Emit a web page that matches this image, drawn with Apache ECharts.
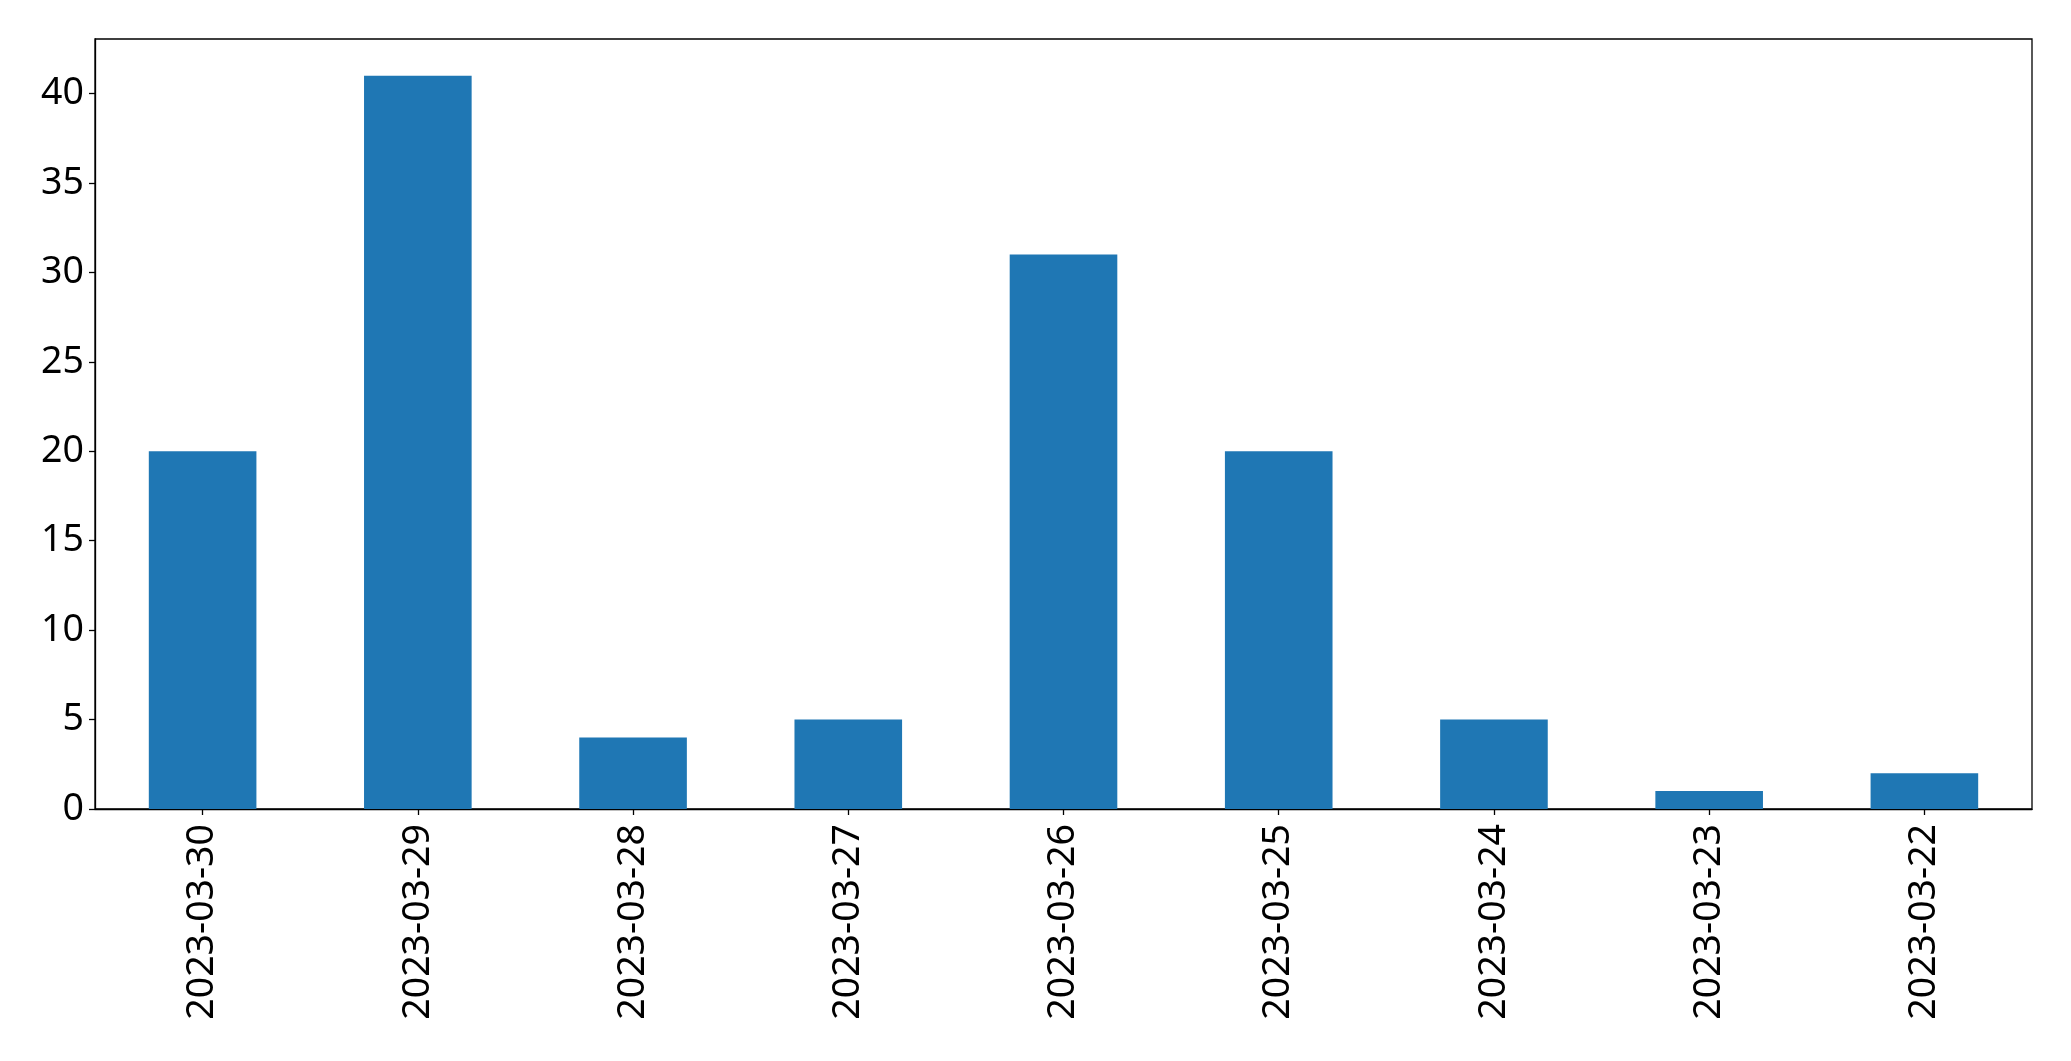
<!DOCTYPE html>
<html>
<head>
<meta charset="utf-8">
<script src="https://cdn.jsdelivr.net/npm/echarts@6/dist/echarts.min.js"></script>
<style>
html,body{margin:0;padding:0;background:#fff;}
#chart{width:2071px;height:1061px;}
</style>
</head>
<body>
<div id="chart"></div>
<script>
const categories = ['2023-03-30','2023-03-29','2023-03-28','2023-03-27','2023-03-26','2023-03-25','2023-03-24','2023-03-23','2023-03-22'];
const values = [20, 41, 4, 5, 31, 20, 5, 1, 2];
const yTicks = [0, 5, 10, 15, 20, 25, 30, 35, 40];
const yMax = 43.05;

const chart = echarts.init(document.getElementById('chart'), null, {renderer: 'canvas'});
const font = 'Noto Sans';
chart.setOption({
  animation: false,
  backgroundColor: '#fff',
  grid: {left: 95, right: 39, top: 39, bottom: 252, containLabel: false,
         show: true, borderColor: '#000', borderWidth: 1.3, backgroundColor: 'transparent'},
  xAxis: {
    type: 'category',
    data: categories,
    boundaryGap: true,
    axisLine: {show: true, lineStyle: {color: '#000', width: 1.3}},
    axisTick: {show: true, alignWithLabel: true, length: 6, lineStyle: {color: '#000', width: 1.3}},
    axisLabel: {rotate: 90, margin: 15, color: '#000', fontFamily: font, fontSize: 37.5, interval: 0},
    splitLine: {show: false}
  },
  yAxis: {
    type: 'value',
    min: 0,
    max: yMax,
    interval: 5,
    axisLine: {show: true, lineStyle: {color: '#000', width: 1.3}},
    axisTick: {show: true, length: 6, lineStyle: {color: '#000', width: 1.3}, customValues: yTicks},
    axisLabel: {margin: 11, color: '#000', fontFamily: font, fontSize: 37.5, customValues: yTicks},
    splitLine: {show: false}
  },
  series: [{
    type: 'bar',
    data: values,
    barWidth: '50%',
    itemStyle: {color: '#1f77b4'}
  }]
});
</script>
</body>
</html>
